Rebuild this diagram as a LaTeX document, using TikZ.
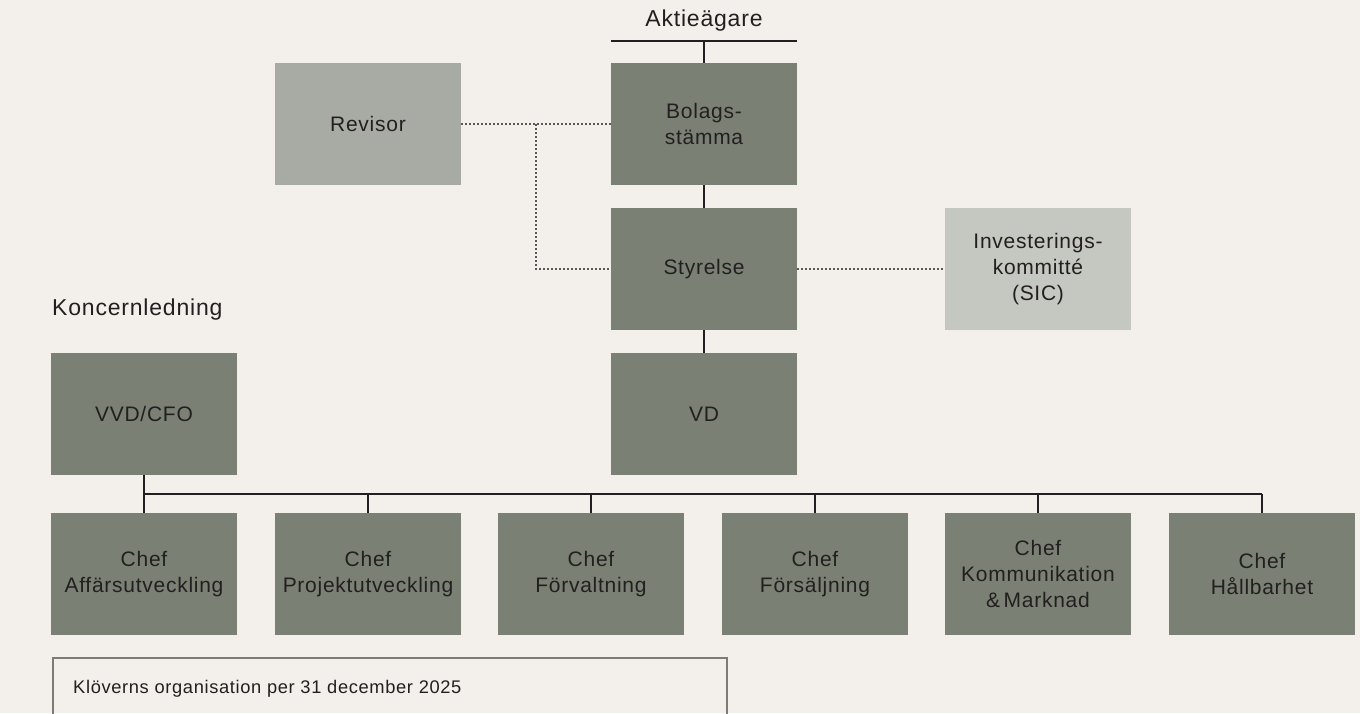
\documentclass[tikz,border=0pt]{standalone}
\usepackage{fontspec}
\setmainfont{Liberation Sans}[LetterSpace=3.5]
\usetikzlibrary{calc}

\definecolor{bgpaper}{HTML}{F3F0EB}
\definecolor{boxgreen}{HTML}{7B8074}
\definecolor{boxlight}{HTML}{A8ABA3}
\definecolor{boxpale}{HTML}{C5C7C1}
\definecolor{inkdark}{HTML}{231F20}
\definecolor{notegray}{HTML}{7E7B77}

\tikzset{
  orgbox/.style={rectangle, fill=boxgreen, minimum width=186pt, minimum height=122pt,
    inner sep=0pt, align=center, text=inkdark, font=\fontsize{21}{26}\selectfont},
  orgline/.style={draw=inkdark, line width=1.2pt},
  dotline/.style={draw=inkdark!75, line width=1.2pt, dash pattern=on 1.6pt off 2.4pt},
  headtext/.style={text=inkdark, inner sep=0pt, font=\fontsize{23}{27}\selectfont},
}

\begin{document}
\begin{tikzpicture}[x=1pt,y=-1pt]
      \fill[bgpaper] (0,0) rectangle (1360,713);
      \useasboundingbox (0,0) rectangle (1360,713);

      % top
      \node[headtext, anchor=base] (aktie) at (704,26) {Aktieägare};
      \coordinate (aktbar) at (704,41);

      \node[orgbox] (bolag) at (704,124) {Bolags-\\stämma};
      \node[orgbox, fill=boxlight] (revisor) at (368,124) {Revisor};
      \node[orgbox] (styrelse) at (704,269) {Styrelse};
      \node[orgbox, fill=boxpale] (sic) at (1038,269) {Investerings-\\kommitté\\(SIC)};
      \node[orgbox] (vd) at (704,414) {VD};

      % koncernledning
      \node[headtext, anchor=base west] (koncern) at (52,315) {Koncernledning};
      \node[orgbox] (vvd) at (144,414) {VVD/CFO};

      \node[orgbox] (chef1) at (144,574) {Chef\\Affärsutveckling};
      \node[orgbox] (chef2) at (368,574) {Chef\\Projektutveckling};
      \node[orgbox] (chef3) at (591,574) {Chef\\Förvaltning};
      \node[orgbox] (chef4) at (815,574) {Chef\\Försäljning};
      \node[orgbox] (chef5) at (1038,574) {Chef\\Kommunikation\\\&\,Marknad};
      \node[orgbox] (chef6) at (1262,574) {Chef\\Hållbarhet};
      \coordinate (bus) at (0,494);

      % connectors
      \draw[orgline] (bolag.north west |- aktbar) -- (bolag.north east |- aktbar);
      \draw[orgline] (aktbar) -- (bolag.north);
      \draw[orgline] (bolag.south) -- (styrelse.north);
      \draw[orgline] (styrelse.south) -- (vd.north);

      \coordinate (revjoin) at ($(revisor.east)!0.5!(bolag.west)$);
      \draw[dotline] (revisor.east) -- (bolag.west);
      \draw[dotline] (revjoin) |- (styrelse.west);
      \draw[dotline] (styrelse.east) -- (sic.west);

      \draw[orgline] (vvd.south) -- (chef1.north);
      \draw[orgline] (chef1.north |- bus) -- (chef6.north |- bus);
      \foreach \i in {2,...,6}
        \draw[orgline] (chef\i.north |- bus) -- (chef\i.north);

      % note
      \node[text=inkdark, inner sep=0pt, anchor=base west, font=\fontsize{18.3}{22}\selectfont]
        (note) at (73,693) {Klöverns organisation per 31 december 2025};
      \draw[notegray, line width=1.2pt] (53,720) -- (53,658) -- (727,658) -- (727,720);
\end{tikzpicture}
\end{document}
